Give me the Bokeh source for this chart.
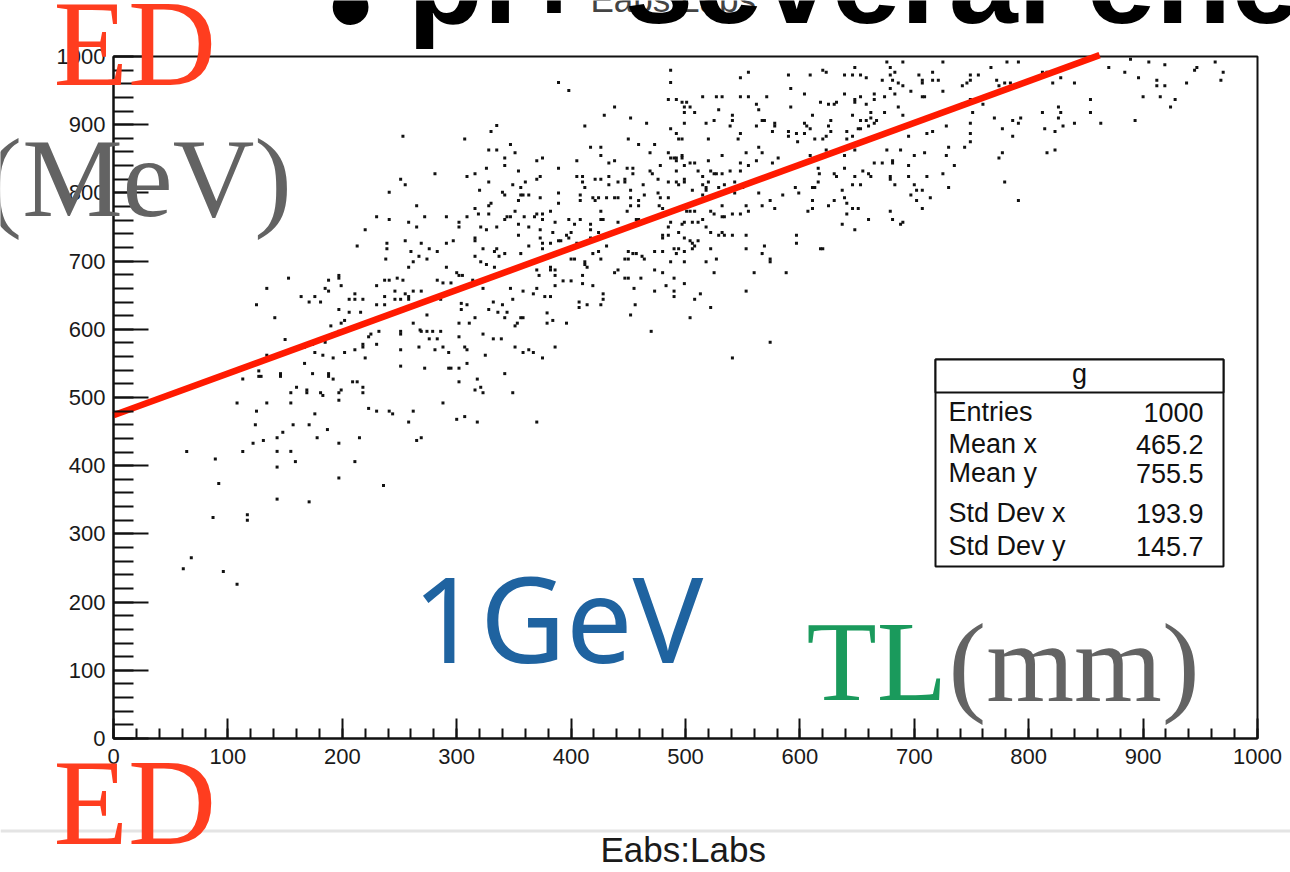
from bokeh.plotting import figure
from bokeh.models import Range1d, FixedTicker, Label, BoxAnnotation
from bokeh.embed import file_html
from bokeh.resources import INLINE

# ---------------- data (Labs [mm], Eabs [MeV]) ----------------
scatter_a = [(108, 492), (113, 527), (124, 460), (122, 433), (131, 437), (113, 421), (64, 421), (89, 410),
             (92, 374), (87, 324), (117, 328), (117, 320), (68, 265), (61, 249), (96, 245), (108, 226),
             (143, 398), (143, 351), (171, 347), (143, 421), (155, 421), (159, 406), (143, 441), (148, 449),
             (157, 460), (171, 460), (178, 441), (187, 453), (197, 433), (197, 382), (211, 406), (215, 441),
             (236, 371)]

scatter_b_x = [335, 330, 253, 307, 347, 328, 335, 351, 342, 326,
               342, 354, 281, 309, 316, 251, 255, 328, 349, 356,
               320, 340, 342, 356, 241, 354, 330, 328, 265, 351,
               316, 319, 328, 230, 241, 272, 291, 302, 302, 309,
               344, 347, 342, 220, 258, 265, 321, 326, 335, 354,
               354, 255, 239, 269, 291, 297, 316, 316, 213, 239,
               260, 276, 283, 323, 333, 335, 316, 337, 342, 356,
               238, 267, 274, 262, 258, 321, 326, 333, 291, 153,
               197, 197, 188, 237, 241, 248, 253, 230, 283, 288,
               295, 300, 302, 305, 314, 134, 185, 188, 199, 164,
               176, 171, 181, 206, 211, 211, 218, 230, 237, 237,
               246, 246, 251, 255, 258, 258, 262, 269, 286, 125,
               197, 206, 216, 323, 347, 349, 141, 190, 199, 202,
               223, 232, 150, 167, 174, 185, 192, 197, 183, 192,
               176, 202, 211, 218, 218, 220, 223, 225, 230, 134,
               127, 127, 129, 146, 146, 167, 174, 188, 188, 192,
               209, 213, 218, 218, 251, 251, 251, 251, 197, 199,
               181, 183, 160, 155, 169, 169, 197, 134, 155, 125,
               176, 223, 230, 241, 244]
scatter_b_y = [899, 890, 883, 879, 871, 863, 863, 859, 851, 836,
               840, 832, 828, 824, 828, 820, 812, 816, 812, 808,
               804, 801, 797, 797, 801, 789, 785, 781, 781, 773,
               777, 769, 769, 765, 761, 765, 765, 757, 750, 765,
               765, 765, 761, 746, 757, 750, 750, 746, 750, 754,
               738, 730, 726, 726, 726, 730, 734, 730, 722, 718,
               714, 718, 714, 718, 714, 718, 707, 707, 711, 711,
               703, 707, 703, 699, 691, 699, 695, 691, 691, 675,
               679, 675, 672, 672, 672, 675, 672, 664, 672, 668,
               668, 683, 679, 679, 672, 660, 660, 656, 664, 648,
               648, 640, 640, 644, 652, 644, 644, 636, 648, 636,
               656, 644, 644, 652, 648, 644, 656, 656, 644, 636,
               629, 625, 625, 660, 660, 644, 617, 605, 609, 613,
               609, 597, 585, 574, 578, 581, 593, 597, 562, 558,
               566, 566, 570, 574, 578, 558, 589, 593, 578, 562,
               539, 531, 531, 535, 531, 550, 535, 535, 531, 527,
               523, 523, 515, 507, 570, 546, 597, 593, 507, 511,
               507, 503, 515, 507, 511, 507, 496, 492, 492, 480,
               476, 484, 480, 480, 476]

scatter_c = [(304, 638), (304, 629), (309, 636), (332, 640), (340, 636), (328, 629), (336, 625), (344, 625),
             (274, 621), (316, 617), (342, 617), (302, 609), (311, 609), (262, 609), (268, 599), (269, 597),
             (274, 597), (279, 597), (286, 597), (302, 589), (323, 593), (276, 586), (283, 586), (332, 586),
             (339, 586), (267, 574), (288, 574), (307, 574), (309, 570), (281, 570), (293, 566), (325, 562),
             (351, 574), (351, 605), (353, 609), (356, 617), (272, 543), (293, 543), (295, 543), (302, 543),
             (309, 550), (342, 535), (302, 523), (318, 527), (316, 511), (321, 515), (323, 507), (349, 507),
             (288, 492), (262, 480), (258, 464), (300, 468), (307, 472), (318, 464), (370, 464), (265, 437),
             (269, 441)]

scatter_d = [(487, 980), (555, 977), (590, 973), (609, 973), (548, 969), (389, 962), (487, 962), (592, 953), (398, 950), (604, 945),
             (485, 937), (492, 937), (497, 933), (501, 933), (515, 941), (527, 941), (532, 941), (548, 941), (555, 941), (571, 941),
             (562, 930), (564, 922), (618, 933), (438, 926), (499, 926), (504, 926), (508, 918), (529, 922), (499, 918), (592, 926),
             (429, 914), (452, 910), (541, 914), (567, 906), (569, 906), (611, 914), (525, 906), (541, 906), (499, 902), (518, 902),
             (539, 898), (562, 898), (578, 902), (578, 898), (604, 902), (606, 898), (609, 894), (590, 890), (597, 887), (604, 887),
             (412, 898), (466, 902), (487, 894), (492, 887), (548, 887), (494, 879), (497, 879), (520, 879), (546, 879), (576, 890),
             (590, 883), (613, 879), (598, 875), (450, 879), (459, 871), (473, 871), (417, 867), (426, 867), (426, 855), (564, 867),
             (469, 859), (485, 859), (487, 851), (490, 851), (492, 851), (497, 855), (497, 851), (492, 847), (532, 855), (553, 859),
             (567, 859), (370, 847), (375, 851), (405, 847), (433, 844), (438, 847), (520, 847), (548, 844), (555, 840), (562, 847),
             (576, 844), (581, 851), (609, 855), (499, 840), (504, 844), (508, 844), (478, 840), (389, 836), (449, 836), (454, 836),
             (454, 828), (469, 832), (471, 828), (492, 832), (511, 832), (522, 832), (525, 828), (539, 832), (548, 832), (616, 836),
             (617, 828), (360, 816), (370, 820), (373, 824), (405, 824), (410, 824), (410, 816), (412, 808), (421, 820), (426, 820),
             (433, 824), (433, 812), (441, 816), (447, 820), (447, 816), (463, 812), (476, 820), (476, 800), (485, 816), (492, 816),
             (494, 812), (499, 820), (499, 816), (515, 824), (515, 812), (518, 808), (520, 816), (527, 828), (532, 828), (534, 812),
             (543, 816), (358, 797), (363, 797), (373, 793), (389, 800), (389, 785), (408, 797), (408, 789), (419, 793), (421, 789),
             (424, 793), (431, 793), (438, 793), (441, 793), (452, 804), (452, 793), (459, 789), (464, 797), (478, 793), (485, 793),
             (506, 804), (518, 804), (515, 797), (529, 808), (536, 804), (543, 800), (550, 808), (564, 800), (574, 789), (585, 797),
             (596, 808), (599, 800), (611, 808), (613, 808), (616, 816), (607, 773), (611, 789), (611, 777), (359, 765), (368, 765),
             (370, 769), (375, 769), (375, 761), (382, 773), (386, 757), (398, 761), (403, 754), (408, 761), (417, 754), (417, 746),
             (426, 773), (426, 761), (428, 761), (441, 757), (452, 781), (449, 773), (457, 761), (459, 761), (459, 781), (477, 781),
             (480, 777), (501, 773), (504, 773), (508, 773), (522, 773), (525, 769), (532, 765), (534, 765), (532, 781), (541, 769),
             (548, 769), (553, 781), (555, 773), (567, 781), (578, 777), (499, 757), (497, 754), (506, 757), (511, 757), (515, 761),
             (518, 750), (485, 750), (487, 757), (522, 742), (532, 742), (534, 738), (529, 738), (541, 738), (553, 738), (597, 738),
             (597, 726), (618, 718), (363, 750), (373, 746), (373, 734), (384, 742), (391, 730), (396, 738), (398, 734), (400, 742),
             (363, 722), (375, 726), (375, 718), (382, 726), (389, 730), (398, 718), (405, 726), (417, 734), (424, 742), (431, 722),
             (424, 714), (419, 711), (412, 699), (412, 695), (414, 691), (400, 703), (403, 703), (480, 738), (480, 734), (485, 738),
             (494, 742), (499, 734), (504, 730), (506, 726), (508, 722), (511, 730), (506, 718), (473, 714), (480, 714), (490, 718),
             (494, 718), (499, 714), (492, 711), (487, 699), (499, 699), (522, 718), (527, 703), (518, 699), (553, 718), (569, 722),
             (567, 711), (574, 703), (574, 699), (450, 714), (454, 711), (457, 711), (462, 707), (464, 703), (447, 703), (450, 703),
             (441, 687), (438, 683), (426, 703), (370, 687), (382, 691), (382, 687), (386, 687), (386, 679), (372, 679), (393, 671),
             (400, 671), (410, 679), (410, 667), (419, 664), (386, 664), (370, 660), (358, 656), (367, 652), (377, 648), (382, 648),
             (407, 640), (407, 632), (414, 636), (426, 636), (428, 652), (428, 644), (447, 675), (450, 675), (461, 675), (455, 660),
             (456, 636), (452, 621), (473, 687), (480, 683), (490, 675), (483, 664), (490, 656), (490, 648), (473, 656), (499, 667),
             (508, 644), (513, 652), (522, 632), (525, 683), (560, 683), (553, 656), (588, 683), (379, 624), (379, 609), (384, 613),
             (396, 609), (358, 617), (386, 574), (358, 566), (363, 570), (367, 566), (375, 558), (470, 597), (504, 617), (541, 558),
             (574, 581)]

scatter_e = [(620, 980), (623, 977), (639, 973), (646, 973), (653, 973), (648, 984), (658, 969), (676, 992), (690, 992), (679, 984),
             (679, 973), (683, 977), (672, 965), (681, 965), (686, 961), (690, 957), (679, 953), (704, 973), (707, 965), (707, 961),
             (716, 977), (716, 965), (721, 965), (725, 992), (725, 949), (697, 949), (639, 945), (665, 945), (665, 937), (674, 941),
             (683, 945), (653, 941), (648, 937), (648, 933), (625, 930), (630, 930), (632, 933), (658, 930), (686, 926), (707, 941),
             (709, 941), (742, 957), (746, 961), (749, 965), (749, 973), (756, 973), (767, 984), (781, 992), (791, 992), (772, 965),
             (774, 957), (779, 961), (784, 961), (786, 906), (793, 910), (791, 902), (786, 883), (777, 894), (770, 910), (749, 937),
             (742, 930), (760, 930), (751, 918), (749, 902), (749, 887), (749, 875), (744, 867), (730, 867), (728, 855), (728, 898),
             (735, 840), (725, 828), (730, 808), (716, 890), (711, 887), (709, 859), (700, 855), (695, 883), (690, 914), (688, 863),
             (676, 863), (674, 918), (662, 918), (667, 906), (665, 902), (660, 898), (658, 906), (662, 910), (653, 906), (653, 894),
             (651, 894), (646, 914), (646, 883), (641, 890), (641, 879), (627, 906), (625, 898), (627, 890), (623, 883), (620, 879),
             (623, 863), (639, 855), (648, 863), (653, 875), (665, 844), (672, 844), (681, 847), (681, 844), (683, 812), (679, 824),
             (679, 820), (695, 840), (695, 824), (700, 812), (702, 804), (707, 804), (697, 797), (702, 789), (714, 793), (711, 824),
             (707, 777), (630, 828), (632, 824), (639, 836), (637, 804), (639, 793), (641, 785), (646, 812), (648, 824), (653, 812),
             (655, 832), (660, 828), (662, 824), (630, 789), (625, 781), (641, 769), (646, 777), (651, 777), (648, 746), (637, 754),
             (660, 761), (679, 773), (681, 761), (688, 754), (690, 757), (620, 718), (777, 859), (774, 851), (779, 816), (791, 789)]

scatter_f = [(812, 977), (816, 977), (828, 969), (821, 961), (840, 961), (837, 988), (870, 984), (889, 996), (884, 977), (905, 992),
             (919, 988), (896, 969), (912, 965), (912, 957), (919, 957), (938, 961), (945, 980), (947, 984), (963, 992), (970, 977),
             (968, 965), (900, 941), (915, 941), (928, 937), (924, 926), (854, 937), (854, 918), (826, 926), (828, 918), (826, 910),
             (812, 918), (814, 894), (823, 890), (830, 898), (840, 902), (863, 902), (893, 906), (816, 859), (823, 863)]

fit_x = [0, 862]
fit_y = [474, 1002]

axis_min, axis_max = 0, 1000
major_ticks = [0, 100, 200, 300, 400, 500, 600, 700, 800, 900, 1000]
minor_ticks = list(range(0, 1001, 20))

stats_title = "g"
stats_names = ["Entries", "Mean x", "Mean y", "Std Dev x", "Std Dev y"]
stats_values = ["1000", "465.2", "755.5", "193.9", "145.7"]

# ---------------- assemble ----------------
labs = [p_[0] for p_ in scatter_a] + scatter_b_x + [p_[0] for p_ in scatter_c] + \
       [p_[0] for p_ in scatter_d] + [p_[0] for p_ in scatter_e] + [p_[0] for p_ in scatter_f]
eabs = [p_[1] for p_ in scatter_a] + scatter_b_y + [p_[1] for p_ in scatter_c] + \
       [p_[1] for p_ in scatter_d] + [p_[1] for p_ in scatter_e] + [p_[1] for p_ in scatter_f]

W, H = 1290, 872
FL, FR, FT, FB = 113, 1257, 56, 738   # where the histogram frame sits on the slide


def X(px):
    return (px - FL) * (axis_max - axis_min) / (FR - FL) + axis_min


def Y(py):
    return (FB - py) * (axis_max - axis_min) / (FB - FT) + axis_min


# the plotting frame covers the whole slide so that the slide texts are not clipped
p = figure(width=W, height=H, output_backend="svg", toolbar_location=None, title=None,
           x_range=Range1d(X(0), X(W)), y_range=Range1d(Y(H), Y(0)), min_border=0)
p.background_fill_color = "white"
p.border_fill_color = "white"
p.outline_line_color = None
p.xgrid.visible = False
p.ygrid.visible = False

for ax, tin, mtin in ((p.xaxis[0], 20, 10), (p.yaxis[0], 35, 20)):
    ax.fixed_location = axis_min
    ax.bounds = (axis_min, axis_max)
    ax.ticker = FixedTicker(ticks=major_ticks, minor_ticks=minor_ticks)
    ax.axis_line_color = "#111111"
    ax.axis_line_width = 2
    ax.major_tick_in = tin
    ax.major_tick_out = 0
    ax.minor_tick_in = mtin
    ax.minor_tick_out = 0
    ax.major_tick_line_color = "#111111"
    ax.minor_tick_line_color = "#111111"
    ax.major_tick_line_width = 2
    ax.minor_tick_line_width = 2
    ax.major_label_text_font = "Liberation Sans"
    ax.major_label_text_font_size = "22px"
    ax.major_label_text_color = "#1a1a1a"
p.xaxis.major_label_standoff = 10
p.yaxis.major_label_standoff = 8

# histogram frame (top and right sides)
p.quad(left=[axis_min], right=[axis_max], bottom=[axis_min], top=[axis_max],
       fill_color=None, line_color="#111111", line_width=2)

# scatter of Eabs vs Labs
p.scatter(labs, eabs, marker="square", size=3, fill_color="#111111", line_color=None)
# red line
p.line(fit_x, fit_y, line_width=6.5, line_color="#ff1a00")

# stats box
p.quad(left=[X(935)], right=[X(1223)], bottom=[Y(566)], top=[Y(359)],
       fill_color="white", line_color="#111111", line_width=2)
p.quad(left=[X(935)], right=[X(1223)], bottom=[Y(392)], top=[Y(359)],
       fill_color="white", line_color="#111111", line_width=2)

BASE_SHIFT = 0.38   # Bokeh puts the alphabetic baseline this many em below y


def lab(px, py, text, size, color, font="Liberation Sans", style="normal", align="left", level="overlay"):
    lb = Label(x=X(px), y=Y(py - BASE_SHIFT * size), x_units="data", y_units="data", text=text,
               text_font=font, text_font_size=f"{size}px", text_color=color,
               text_font_style=style, text_align=align, text_baseline="alphabetic",
               level=level)
    p.add_layout(lb)
    return lb


lab(1079, 384, stats_title, 27, "#111111", align="center", level="annotation")
row_base = [422, 454, 483, 523, 556]
for name, val, by in zip(stats_names, stats_values, row_base):
    lab(948, by, name, 27, "#111111", level="annotation")
    lab(1203, by, val, 27, "#111111", align="right", level="annotation")

# separator line of the slide
p.add_layout(BoxAnnotation(left=X(0), right=X(W), bottom=Y(832), top=Y(829),
                           fill_color="#e4e4e4", fill_alpha=1.0, line_color=None, level="underlay"))

# histogram titles
lab(590, 12, "Eabs:Labs", 35, "#444444")
lab(600, 862, "Eabs:Labs", 35, "#1a1a1a")

# slide overlay texts
lab(327, 55, "\u2022", 132, "#000000")
lab(407, 27, "pi+ several energies", 124, "#000000", style="bold")
lab(-16, 220, "(MeV)", 113, "#636363", font="Liberation Serif")
lab(53, 89, "ED", 122, "#ff3d1f", font="Liberation Serif")
lab(53, 848, "ED", 122, "#ff3d1f", font="Liberation Serif")
lab(412, 662, "1GeV", 118, "#1f63a0", font="Noto Sans")
lab(806, 705, "TL", 115, "#1a9a5c", font="Liberation Serif")
lab(948, 705, "(mm)", 113, "#636363", font="Liberation Serif")

open("out.html", "w").write(file_html(p, INLINE))
